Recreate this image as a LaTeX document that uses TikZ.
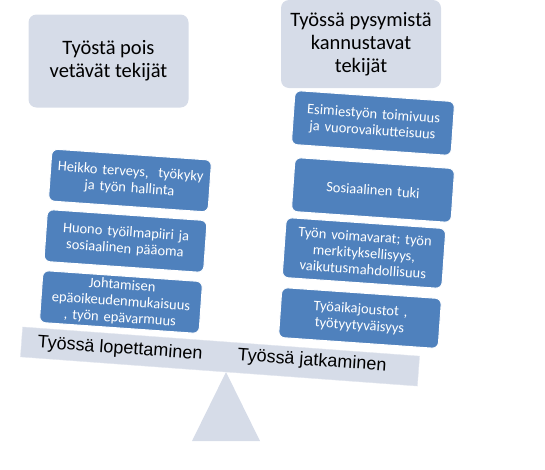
\documentclass[tikz,border=0pt]{standalone}
\usepackage{fontspec}
\setmainfont{Carlito}
\newfontfamily\beamfont{Liberation Sans}
\usetikzlibrary{positioning}
\definecolor{scalegrey}{HTML}{D6DCE8}
\definecolor{factorblue}{HTML}{4F81BD}
\tikzset{
    sidebox/.style={rectangle, rounded corners=8pt, fill=scalegrey, minimum width=160pt, align=center, font=\fontsize{20.5}{23}\selectfont},
    factor/.style={rectangle, rounded corners=6pt, draw=white, line width=1pt, fill=factorblue, text=white, minimum width=160pt, text width=154pt, inner xsep=2pt, inner ysep=1pt, align=center, rotate=-4, font=\fontsize{14.5}{16.5}\selectfont},
    beamtext/.style={rotate=-4, font=\beamfont\fontsize{18}{20}\selectfont},
}
\begin{document}
\begin{tikzpicture}[x=1pt, y=-1pt]
    \useasboundingbox (0,0) rectangle (545,469);
    % headings
    \node[sidebox, minimum height=93pt] (leavehead) at (108.5,61) {Työstä pois\\vetävät tekijät};
    \node[sidebox, minimum height=88pt] (stayhead) at (361,44) {Työssä pysymistä\\kannustavat\\tekijät};
    % scale
    \fill[scalegrey] (192,441) -- (226,372) -- (260,441) -- cycle;
    \node[rectangle, fill=scalegrey, draw=scalegrey!70!white, minimum width=398pt, minimum height=30pt, rotate=-4.2] (beam) at (220,356.5) {};
    \node[beamtext] (leavetext) at (120,349) {Työssä lopettaminen};
    \node[beamtext] (staytext) at (312,361) {Työssä jatkaminen};
    % left side
    \node[factor, minimum height=52pt] (leave1) at (130,180.5) {Heikko terveys,\ \ työkyky\\ja työn hallinta};
    \node[factor, minimum height=52pt] (leave2) at (125.5,241) {Huono työilmapiiri ja\\sosiaalinen pääoma};
    \node[factor, minimum height=52pt] (leave3) at (121,302) {Johtamisen\\epäoikeudenmukaisuus\\, työn epävarmuus};
    % right side
    \node[factor, minimum height=50pt] (stay4) at (360,318) {Työaikajoustot ,\\työtyytyväisyys};
    \node[factor, minimum height=60pt] (stay3) at (364,253) {Työn voimavarat; työn\\merkityksellisyys,\\vaikutusmahdollisuus};
    \node[factor, minimum height=54pt] (stay2) at (373,190) {Sosiaalinen tuki};
    \node[factor, minimum height=54pt] (stay1) at (373,123) {Esimiestyön toimivuus\\ja vuorovaikutteisuus};
\end{tikzpicture}
\end{document}
